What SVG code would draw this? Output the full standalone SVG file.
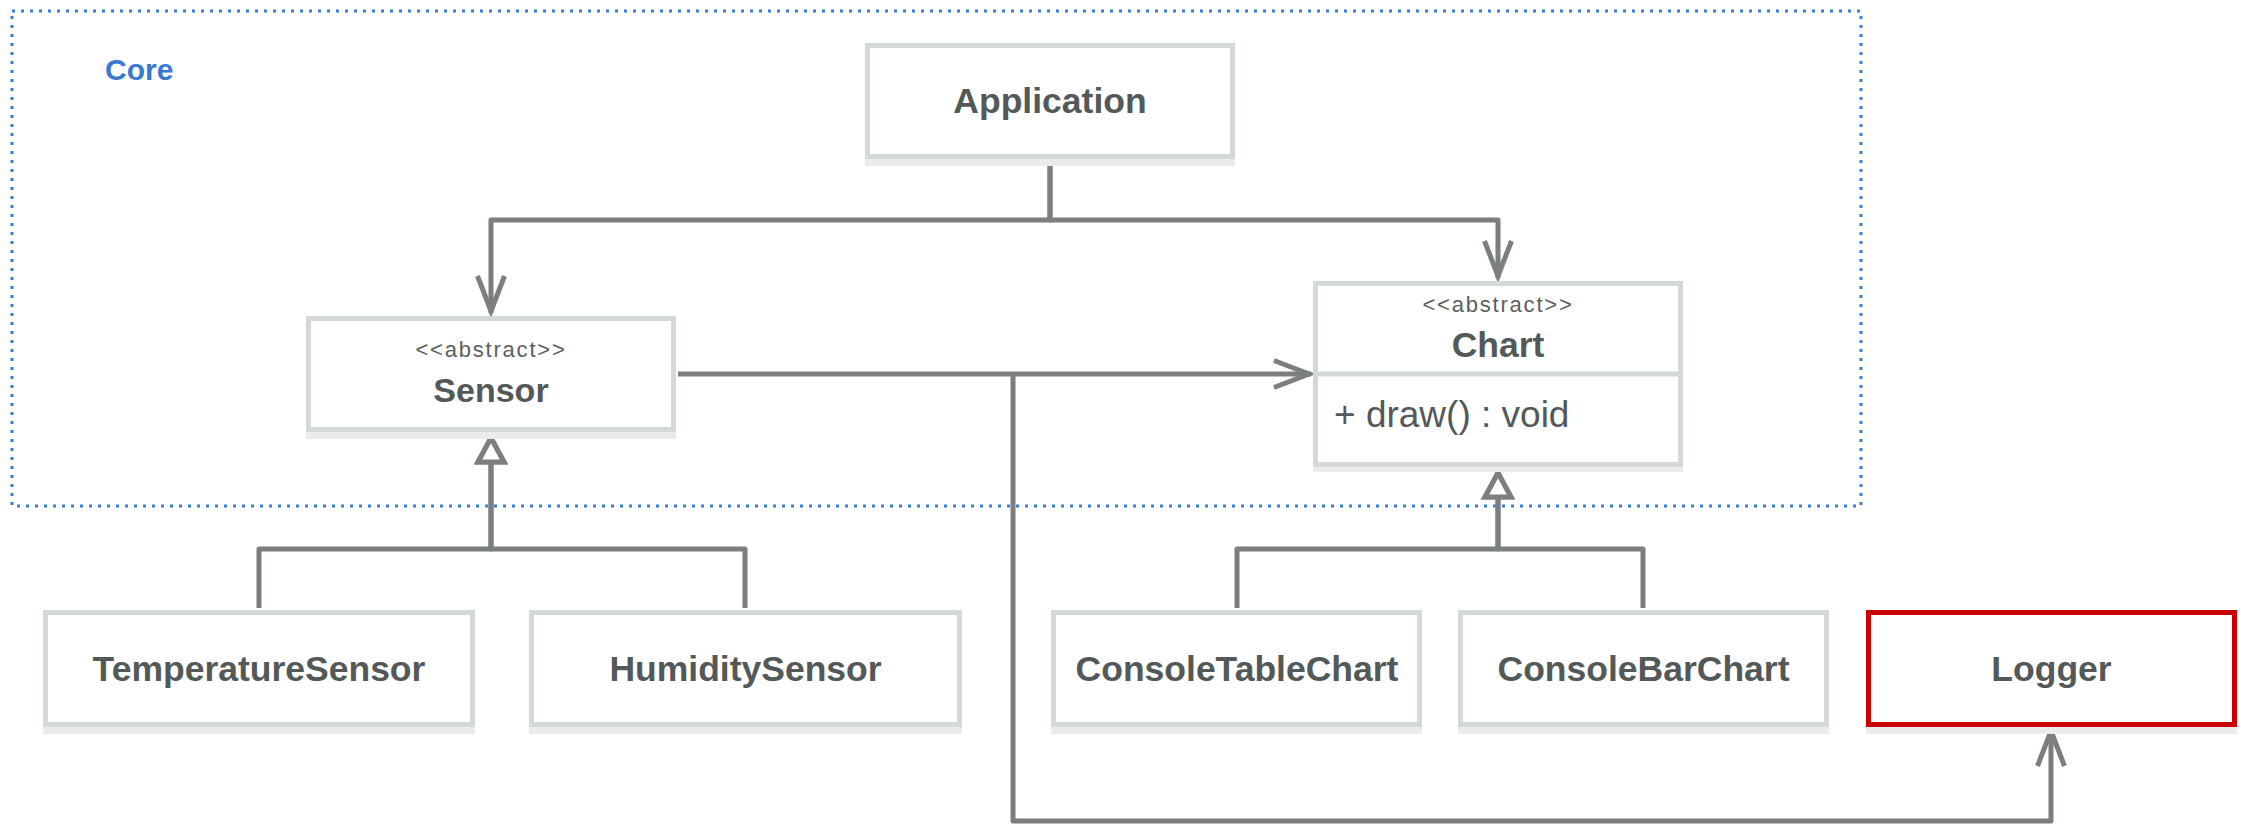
<svg xmlns="http://www.w3.org/2000/svg" width="2241" height="824" viewBox="0 0 2241 824">
  <style>
    .box { fill: #ffffff; stroke: #d3d8d8; stroke-width: 5; }
    .box-red { fill: #ffffff; stroke: #c80000; stroke-width: 5; }
    .shadow { fill: #ebebeb; }
    .name { font-family: "Liberation Sans", Arial, sans-serif; font-weight: bold; font-size: 35.5px; fill: #535858; text-anchor: middle; }
    .name-short { font-size: 34px; }
    .stereo { font-family: "Liberation Sans", Arial, sans-serif; font-size: 22px; letter-spacing: 1.8px; fill: #5a5f5f; text-anchor: middle; }
    .member { font-family: "Liberation Sans", Arial, sans-serif; font-size: 37px; fill: #535858; }
    .conn { fill: none; stroke: #7b7f7f; stroke-width: 5; stroke-linejoin: round; }
    .frame { fill: none; stroke: #3b7dd8; stroke-width: 3; stroke-dasharray: 3 6; }
    .frame-label { font-family: "Liberation Sans", Arial, sans-serif; font-weight: bold; font-size: 30px; fill: #3a78d2; }
  </style>
  <defs>
    <!-- open arrowhead for associations -->
    <marker id="open" viewBox="-42 -18 46 36" refX="0" refY="0" markerWidth="46" markerHeight="36" markerUnits="userSpaceOnUse" orient="auto" overflow="visible">
      <path d="M-37,-13.5 L-2,0 L-37,13.5" fill="none" stroke="#7b7f7f" stroke-width="5" stroke-linejoin="miter"/>
    </marker>
    <!-- hollow triangle for generalization -->
    <marker id="tri" viewBox="-36 -20 40 40" refX="0" refY="0" markerWidth="40" markerHeight="40" markerUnits="userSpaceOnUse" orient="auto" overflow="visible">
      <path d="M-28,-13 L-4,0 L-28,13 Z" fill="#ffffff" stroke="#7b7f7f" stroke-width="5" stroke-linejoin="miter"/>
    </marker>
  </defs>

  <rect width="2241" height="824" fill="#ffffff"/>

  <!-- Core package frame -->
  <g id="core">
    <rect class="frame" x="12" y="11" width="1849" height="495"/>
    <text class="frame-label" x="105" y="80">Core</text>
  </g>

  <!-- connectors -->
  <g id="connectors">
    <path class="conn" d="M1050,161 V220 H491 V313" marker-end="url(#open)"/>
    <path class="conn" d="M1050,161 V220 H1498 V278" marker-end="url(#open)"/>
    <path class="conn" d="M678,374 H1311" marker-end="url(#open)"/>
    <path class="conn" d="M1013,374 V821 H2051 V729" marker-end="url(#open)"/>
    <path class="conn" d="M259,608 V549 H491 V434" marker-end="url(#tri)"/>
    <path class="conn" d="M745,608 V549 H491 V434" marker-end="url(#tri)"/>
    <path class="conn" d="M1237,608 V549 H1498 V469" marker-end="url(#tri)"/>
    <path class="conn" d="M1643,608 V549 H1498 V469" marker-end="url(#tri)"/>
  </g>

  <g id="application">
    <rect class="shadow" x="865" y="157" width="370" height="9"/>
    <rect class="box" x="867.5" y="45.5" width="365" height="111"/>
    <text class="name" x="1050" y="113">Application</text>
  </g>

  <g id="sensor">
    <rect class="shadow" x="306" y="430" width="370" height="9"/>
    <rect class="box" x="308.5" y="318.5" width="365" height="111"/>
    <text class="stereo" x="491" y="357">&lt;&lt;abstract&gt;&gt;</text>
    <text class="name name-short" x="491" y="402">Sensor</text>
  </g>

  <g id="chart">
    <rect class="shadow" x="1313" y="465" width="370" height="7"/>
    <rect class="box" x="1315.5" y="283.5" width="365" height="181"/>
    <line x1="1315.5" y1="374" x2="1680.5" y2="374" stroke="#d3d8d8" stroke-width="5"/>
    <text class="stereo" x="1498" y="312">&lt;&lt;abstract&gt;&gt;</text>
    <text class="name" x="1498" y="357">Chart</text>
    <text class="member" x="1334" y="427">+ draw() : void</text>
  </g>

  <g id="temperature-sensor">
    <rect class="shadow" x="43" y="725" width="432" height="9"/>
    <rect class="box" x="45.5" y="612.5" width="427" height="112"/>
    <text class="name" x="259" y="681">TemperatureSensor</text>
  </g>

  <g id="humidity-sensor">
    <rect class="shadow" x="529" y="725" width="433" height="9"/>
    <rect class="box" x="531.5" y="612.5" width="428" height="112"/>
    <text class="name" x="745.5" y="681">HumiditySensor</text>
  </g>

  <g id="console-table-chart">
    <rect class="shadow" x="1051" y="725" width="371" height="9"/>
    <rect class="box" x="1053.5" y="612.5" width="366" height="112"/>
    <text class="name" x="1237" y="681">ConsoleTableChart</text>
  </g>

  <g id="console-bar-chart">
    <rect class="shadow" x="1458" y="725" width="371" height="9"/>
    <rect class="box" x="1460.5" y="612.5" width="366" height="112"/>
    <text class="name" x="1643.5" y="681">ConsoleBarChart</text>
  </g>

  <g id="logger">
    <rect class="shadow" x="1866" y="725" width="371" height="9"/>
    <rect class="box-red" x="1868.5" y="612.5" width="366" height="112"/>
    <text class="name" x="2051.5" y="681">Logger</text>
  </g>
</svg>
